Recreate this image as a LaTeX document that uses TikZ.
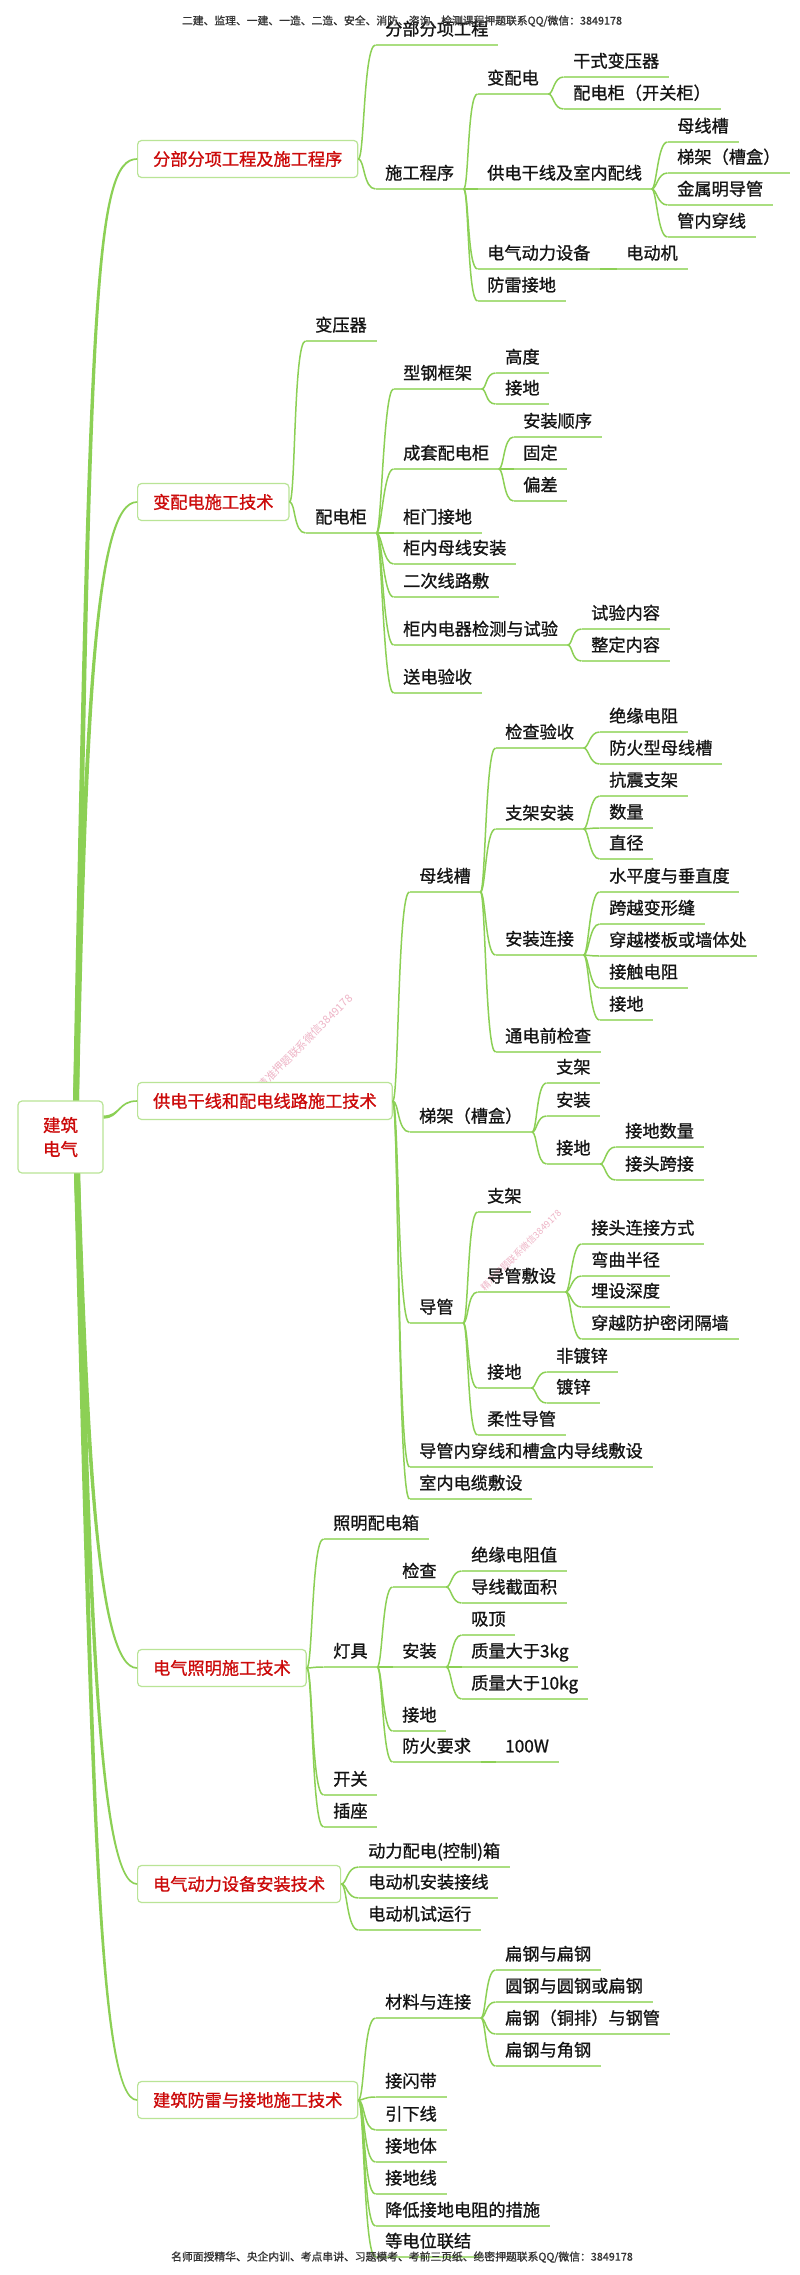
\documentclass[tikz,border=0pt]{standalone}
\usepackage{fontspec}
\setmainfont{Noto Sans CJK SC}[FakeBold=1]
\newfontfamily\wmfont{Noto Sans CJK SC}
\usetikzlibrary{calc}
\definecolor{conng}{RGB}{140,208,85}
\definecolor{ulg}{RGB}{170,222,128}
\definecolor{boxg}{RGB}{185,228,150}
\definecolor{redt}{RGB}{204,10,10}
\definecolor{txt}{RGB}{20,20,20}
\definecolor{wmc}{RGB}{238,180,198}
\newcommand\mmfont{\fontsize{17.2}{20}\selectfont}
\newcommand\hdrfont{\fontsize{10.8}{12}\selectfont}
\begin{document}
\begin{tikzpicture}[x=1pt,y=-1pt,
  leaf/.style={anchor=south west, xshift=-9.5pt, inner xsep=9.5pt, inner ysep=0pt,
    text depth=9.5pt, text height=14pt, font=\mmfont, text=txt},
  box/.style={draw=boxg, line width=1.2pt, rounded corners=4pt, fill=white, text=redt,
    font=\mmfont, minimum height=37pt, inner xsep=15.5pt, inner ysep=0pt, anchor=west},
  conn/.style={draw=conng, line width=1.5pt},
  ul/.style={draw=ulg, line width=1.6pt},
  hdr/.style={font=\hdrfont, text=black!80, inner sep=0pt},
  wm/.style={font=\wmfont\fontsize{10.8}{12}\selectfont, text=wmc, inner sep=0pt}]
\useasboundingbox (0,0) rectangle (800,2275);
\fill[white] (0,0) rectangle (800,2275);

% watermarks (behind everything)
\node[wm, rotate=45] (wm1) at (305,1042) {精准押题联系微信3849178};
\node[wm, rotate=45, font=\wmfont\fontsize{9.2}{11}\selectfont] (wm2) at (521,1250) {精准押题联系微信3849178};

% root
\node[draw=boxg, line width=1.2pt, rounded corners=4pt, fill=white, text=redt,
  font=\fontsize{17.5}{24}\selectfont, align=center, minimum width=85pt, minimum height=72pt,
  inner sep=0pt] (root) at (60.5,1137) {建筑\\电气};

% category boxes
\node[box] (b1) at (137,159) {分部分项工程及施工程序};
\node[box] (b2) at (137,502) {变配电施工技术};
\node[box] (b3) at (137,1101) {供电干线和配电线路施工技术};
\node[box] (b4) at (137,1668) {电气照明施工技术};
\node[box] (b5) at (137,1884) {电气动力设备安装技术};
\node[box] (b6) at (137,2100) {建筑防雷与接地施工技术};

% section 1
\node[leaf] (n11) at (385,45) {分部分项工程};
\node[leaf] (n12) at (385,189) {施工程序};
\node[leaf] (n121) at (487,94) {变配电};
\node[leaf] (n1211) at (573,77) {干式变压器};
\node[leaf] (n1212) at (573,109) {配电柜（开关柜）};
\node[leaf] (n122) at (487,189) {供电干线及室内配线};
\node[leaf] (n1221) at (677,142) {母线槽};
\node[leaf] (n1222) at (677,173) {梯架（槽盒）};
\node[leaf] (n1223) at (677,205) {金属明导管};
\node[leaf] (n1224) at (677,237) {管内穿线};
\node[leaf] (n123) at (487,269) {电气动力设备};
\node[leaf] (n1231) at (626,269) {电动机};
\node[leaf] (n124) at (487,301) {防雷接地};

% section 2
\node[leaf] (n21) at (315,341) {变压器};
\node[leaf] (n22) at (315,533) {配电柜};
\node[leaf] (n221) at (403,389) {型钢框架};
\node[leaf] (n2211) at (505,373) {高度};
\node[leaf] (n2212) at (505,404) {接地};
\node[leaf] (n222) at (403,469) {成套配电柜};
\node[leaf] (n2221) at (523,437) {安装顺序};
\node[leaf] (n2222) at (523,469) {固定};
\node[leaf] (n2223) at (523,501) {偏差};
\node[leaf] (n223) at (403,533) {柜门接地};
\node[leaf] (n224) at (403,564) {柜内母线安装};
\node[leaf] (n225) at (403,597) {二次线路敷};
\node[leaf] (n226) at (403,645) {柜内电器检测与试验};
\node[leaf] (n2261) at (591,629) {试验内容};
\node[leaf] (n2262) at (591,661) {整定内容};
\node[leaf] (n227) at (403,693) {送电验收};

% section 3
\node[leaf] (n31) at (419,892) {母线槽};
\node[leaf] (n311) at (505,748) {检查验收};
\node[leaf] (n3111) at (609,732) {绝缘电阻};
\node[leaf] (n3112) at (609,764) {防火型母线槽};
\node[leaf] (n312) at (505,829) {支架安装};
\node[leaf] (n3121) at (609,796) {抗震支架};
\node[leaf] (n3122) at (609,828) {数量};
\node[leaf] (n3123) at (609,859) {直径};
\node[leaf] (n313) at (505,955) {安装连接};
\node[leaf] (n3131) at (609,892) {水平度与垂直度};
\node[leaf] (n3132) at (609,924) {跨越变形缝};
\node[leaf] (n3133) at (609,956) {穿越楼板或墙体处};
\node[leaf] (n3134) at (609,988) {接触电阻};
\node[leaf] (n3135) at (609,1020) {接地};
\node[leaf] (n314) at (505,1052) {通电前检查};
\node[leaf] (n32) at (419,1132) {梯架（槽盒）};
\node[leaf] (n321) at (556,1083) {支架};
\node[leaf] (n322) at (556,1116) {安装};
\node[leaf] (n323) at (556,1164) {接地};
\node[leaf] (n3231) at (625,1147) {接地数量};
\node[leaf] (n3232) at (625,1180) {接头跨接};
\node[leaf] (n33) at (419,1323) {导管};
\node[leaf] (n331) at (487,1212) {支架};
\node[leaf] (n332) at (487,1292) {导管敷设};
\node[leaf] (n3321) at (591,1244) {接头连接方式};
\node[leaf] (n3322) at (591,1276) {弯曲半径};
\node[leaf] (n3323) at (591,1307) {埋设深度};
\node[leaf] (n3324) at (591,1339) {穿越防护密闭隔墙};
\node[leaf] (n333) at (487,1388) {接地};
\node[leaf] (n3331) at (556,1372) {非镀锌};
\node[leaf] (n3332) at (556,1403) {镀锌};
\node[leaf] (n334) at (487,1435) {柔性导管};
\node[leaf] (n34) at (419,1467) {导管内穿线和槽盒内导线敷设};
\node[leaf] (n35) at (419,1499) {室内电缆敷设};

% section 4
\node[leaf] (n41) at (333,1539) {照明配电箱};
\node[leaf] (n42) at (333,1667) {灯具};
\node[leaf] (n421) at (402,1587) {检查};
\node[leaf] (n4211) at (471,1571) {绝缘电阻值};
\node[leaf] (n4212) at (471,1603) {导线截面积};
\node[leaf] (n422) at (402,1667) {安装};
\node[leaf] (n4221) at (471,1635) {吸顶};
\node[leaf] (n4222) at (471,1667) {质量大于3kg};
\node[leaf] (n4223) at (471,1699) {质量大于10kg};
\node[leaf] (n423) at (402,1731) {接地};
\node[leaf] (n424) at (402,1762) {防火要求};
\node[leaf] (n4241) at (505,1762) {100W};
\node[leaf] (n43) at (333,1795) {开关};
\node[leaf] (n44) at (333,1827) {插座};

% section 5
\node[leaf] (n51) at (368,1867) {动力配电(控制)箱};
\node[leaf] (n52) at (368,1898) {电动机安装接线};
\node[leaf] (n53) at (368,1930) {电动机试运行};

% section 6
\node[leaf] (n61) at (385,2018) {材料与连接};
\node[leaf] (n611) at (505,1970) {扁钢与扁钢};
\node[leaf] (n612) at (505,2002) {圆钢与圆钢或扁钢};
\node[leaf] (n613) at (505,2034) {扁钢（铜排）与钢管};
\node[leaf] (n614) at (505,2066) {扁钢与角钢};
\node[leaf] (n62) at (385,2097) {接闪带};
\node[leaf] (n63) at (385,2130) {引下线};
\node[leaf] (n64) at (385,2162) {接地体};
\node[leaf] (n65) at (385,2194) {接地线};
\node[leaf] (n66) at (385,2226) {降低接地电阻的措施};
\node[leaf] (n67) at (385,2257) {等电位联结};

% underlines
\foreach \n in {n11,n12,n121,n1211,n1212,n122,n1221,n1222,n1223,n1224,n123,n1231,n124,
  n21,n22,n221,n2211,n2212,n222,n2221,n2222,n2223,n223,n224,n225,n226,n2261,n2262,n227,
  n31,n311,n3111,n3112,n312,n3121,n3122,n3123,n313,n3131,n3132,n3133,n3134,n3135,n314,
  n32,n321,n322,n323,n3231,n3232,n33,n331,n332,n3321,n3322,n3323,n3324,n333,n3331,n3332,n334,n34,n35,
  n41,n42,n421,n4211,n4212,n422,n4221,n4222,n4223,n423,n424,n4241,n43,n44,
  n51,n52,n53,n61,n611,n612,n613,n614,n62,n63,n64,n65,n66,n67}
  \draw[ul] (\n.south west) -- (\n.south east);

% box to first-level connectors
\foreach \a/\b in {b1/n11,b1/n12,b2/n21,b2/n22,b3/n31,b3/n32,b3/n33,b3/n34,b3/n35,
  b4/n41,b4/n42,b4/n43,b4/n44,b5/n51,b5/n52,b5/n53,
  b6/n61,b6/n62,b6/n63,b6/n64,b6/n65,b6/n66,b6/n67}
  \draw[conn] (\a.east) .. controls +(6,0) and +(-12,0) .. (\b.south west);

% node to node connectors
\foreach \a/\b in {n12/n121,n12/n122,n12/n123,n12/n124,n121/n1211,n121/n1212,
  n122/n1221,n122/n1222,n122/n1223,n122/n1224,n123/n1231,
  n22/n221,n22/n222,n22/n223,n22/n224,n22/n225,n22/n226,n22/n227,
  n221/n2211,n221/n2212,n222/n2221,n222/n2222,n222/n2223,n226/n2261,n226/n2262,
  n31/n311,n31/n312,n31/n313,n31/n314,n311/n3111,n311/n3112,
  n312/n3121,n312/n3122,n312/n3123,
  n313/n3131,n313/n3132,n313/n3133,n313/n3134,n313/n3135,
  n32/n321,n32/n322,n32/n323,n323/n3231,n323/n3232,
  n33/n331,n33/n332,n33/n333,n33/n334,
  n332/n3321,n332/n3322,n332/n3323,n332/n3324,n333/n3331,n333/n3332,
  n42/n421,n42/n422,n42/n423,n42/n424,n421/n4211,n421/n4212,
  n422/n4221,n422/n4222,n422/n4223,n424/n4241,
  n61/n611,n61/n612,n61/n613,n61/n614}
  \draw[conn] (\a.south east) .. controls +(5,0) and +(-10,0) .. (\b.south west);

% root connectors (tapered)
\coordinate (rt) at ($(root.north)+(15.5,0)$);
\coordinate (rb) at ($(root.south)+(16.5,0)$);
\coordinate (rr) at ($(root.east)+(0,-20)$);
\fill[conng] ($(rt)+(-3,0)$) .. controls (88.5,300) and (93.5,157.6) .. ($(b1.west)+(0,-0.8)$)
  -- ($(b1.west)+(0,0.8)$) .. controls (96.5,160.4) and (91.5,300) .. ($(rt)+(3,0)$) -- cycle;
\fill[conng] ($(rt)+(-3,0)$) .. controls (84.5,700) and (94.5,500.6) .. ($(b2.west)+(0,-0.8)$)
  -- ($(b2.west)+(0,0.8)$) .. controls (97.5,503.4) and (87.5,700) .. ($(rt)+(3,0)$) -- cycle;
\fill[conng] ($(rr)+(0,-1.6)$) .. controls (120,1115.4) and (118,1100.2) .. ($(b3.west)+(0,-0.8)$)
  -- ($(b3.west)+(0,0.8)$) .. controls (118,1101.8) and (120,1118.6) .. ($(rr)+(0,1.6)$) -- cycle;
\fill[conng] ($(rb)+(-3,0)$) .. controls (86.5,1450) and (95.5,1669.4) .. ($(b4.west)+(0,0.8)$)
  -- ($(b4.west)+(0,-0.8)$) .. controls (98.5,1666.6) and (89.5,1450) .. ($(rb)+(3,0)$) -- cycle;
\fill[conng] ($(rb)+(-3,0)$) .. controls (88.5,1600) and (96.5,1885.4) .. ($(b5.west)+(0,0.8)$)
  -- ($(b5.west)+(0,-0.8)$) .. controls (99.5,1882.6) and (91.5,1600) .. ($(rb)+(3,0)$) -- cycle;
\fill[conng] ($(rb)+(-3,0)$) .. controls (90.5,1800) and (97.5,2101.4) .. ($(b6.west)+(0,0.8)$)
  -- ($(b6.west)+(0,-0.8)$) .. controls (100.5,2098.6) and (93.5,1800) .. ($(rb)+(3,0)$) -- cycle;

% header / footer
\node[hdr] (hdr) at (402,21) {二建、监理、一建、一造、二造、安全、消防、咨询、检测课程押题联系QQ/微信：3849178};
\node[hdr] (ftr) at (402,2257) {名师面授精华、央企内训、考点串讲、习题模考、考前三页纸、绝密押题联系QQ/微信：3849178};
\end{tikzpicture}
\end{document}
